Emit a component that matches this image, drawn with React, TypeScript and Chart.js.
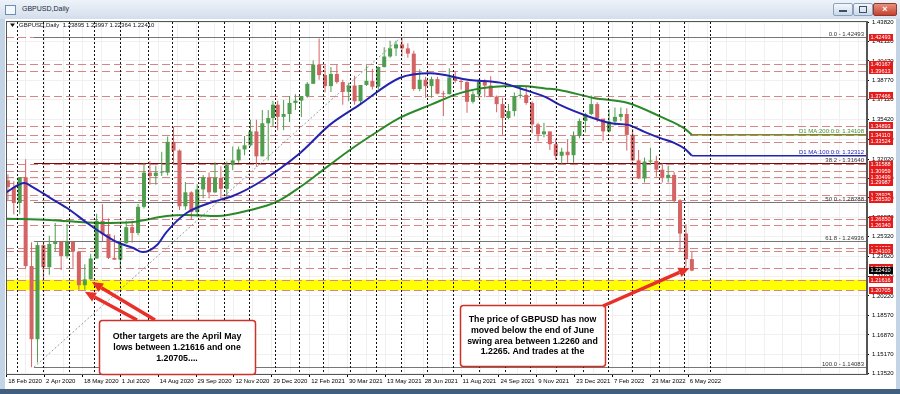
import React, { useEffect, useRef } from 'react';
import { Chart, registerables } from 'chart.js';

Chart.register(...registerables);

// ---------------- data ----------------
const FIRST_WEEK_MONDAY = '2020-02-17';
const FIRST_OPEN = 1.3018;

const weekHigh2020 = [1.3070, 1.3010, 1.3047, 1.3200, 1.2485, 1.2485, 1.2485, 1.2540, 1.2650, 1.2495, 1.2645, 1.2490, 1.2400, 1.2295, 1.2385, 1.2730, 1.2813, 1.2690, 1.2545, 1.2505, 1.2670, 1.2670, 1.2815, 1.3170, 1.3185, 1.3145, 1.3265, 1.3395, 1.3482, 1.3285, 1.3005, 1.2925, 1.2985, 1.3065, 1.3085, 1.3175, 1.3140, 1.3180, 1.3310, 1.3310, 1.3400, 1.3540, 1.3540, 1.3625, 1.3625, 1.3705];
const weekLow2020 = [1.2849, 1.2725, 1.2726, 1.2260, 1.14083, 1.1450, 1.2165, 1.2205, 1.2405, 1.2247, 1.2345, 1.2265, 1.2075, 1.2076, 1.2165, 1.2345, 1.2495, 1.2340, 1.2335, 1.2252, 1.2475, 1.2480, 1.2545, 1.2775, 1.2980, 1.2980, 1.3055, 1.3060, 1.3150, 1.2762, 1.2765, 1.2676, 1.2705, 1.2865, 1.2865, 1.2910, 1.2855, 1.2855, 1.3105, 1.3170, 1.3235, 1.3310, 1.3135, 1.3225, 1.3190, 1.3485];
const weekClose2020 = [1.2960, 1.2823, 1.3045, 1.2280, 1.1650, 1.2460, 1.2270, 1.2470, 1.2490, 1.2365, 1.2490, 1.2405, 1.2115, 1.2165, 1.2345, 1.2670, 1.2555, 1.2350, 1.2335, 1.2475, 1.2615, 1.2565, 1.2790, 1.3085, 1.3055, 1.3085, 1.3085, 1.3350, 1.3275, 1.2795, 1.2915, 1.2745, 1.2940, 1.3045, 1.2915, 1.3040, 1.2945, 1.3150, 1.3190, 1.3285, 1.3320, 1.3440, 1.3225, 1.3510, 1.3555, 1.3670];

const weekHigh2021 = [1.3705, 1.3710, 1.3745, 1.3760, 1.3745, 1.3865, 1.4050, 1.4240, 1.4010, 1.3995, 1.4015, 1.3885, 1.3860, 1.3920, 1.3840, 1.4010, 1.3980, 1.4000, 1.4165, 1.4220, 1.4220, 1.42493, 1.4200, 1.4135, 1.3975, 1.3910, 1.3910, 1.3910, 1.3790, 1.3985, 1.3955, 1.3890, 1.3875, 1.3785, 1.3890, 1.3890, 1.3915, 1.3750, 1.3730, 1.3675, 1.3775, 1.3835, 1.3825, 1.3700, 1.3515, 1.3515, 1.3440, 1.3375, 1.3300, 1.3375, 1.3440, 1.3550];
const weekLow2021 = [1.3450, 1.3450, 1.3520, 1.3625, 1.3565, 1.3730, 1.3850, 1.3885, 1.3775, 1.3780, 1.3850, 1.3670, 1.3700, 1.3670, 1.3670, 1.3830, 1.3800, 1.3800, 1.3990, 1.4075, 1.4090, 1.4085, 1.4075, 1.3790, 1.3785, 1.3730, 1.3730, 1.3760, 1.3572, 1.3760, 1.3860, 1.3800, 1.3600, 1.3680, 1.3725, 1.3735, 1.3735, 1.3605, 1.3412, 1.3545, 1.3570, 1.3725, 1.3670, 1.3425, 1.3355, 1.3390, 1.3280, 1.3195, 1.3160, 1.3170, 1.3170, 1.3380];
const weekClose2021 = [1.3565, 1.3590, 1.3685, 1.3705, 1.3745, 1.3850, 1.4015, 1.3925, 1.3830, 1.3935, 1.3865, 1.3780, 1.3835, 1.3700, 1.3840, 1.3875, 1.3825, 1.3995, 1.4085, 1.4155, 1.4190, 1.4155, 1.4110, 1.3805, 1.3885, 1.3830, 1.3890, 1.3765, 1.3760, 1.3905, 1.3875, 1.3865, 1.3695, 1.3760, 1.3870, 1.3835, 1.3740, 1.3675, 1.3555, 1.3615, 1.3745, 1.3755, 1.3685, 1.3500, 1.3415, 1.3440, 1.3330, 1.3230, 1.3265, 1.3235, 1.3400, 1.3530];

const weekHigh2022 = [1.3600, 1.3750, 1.3690, 1.3540, 1.3630, 1.3645, 1.3645, 1.3640, 1.3460, 1.3280, 1.3215, 1.3300, 1.3230, 1.3165, 1.3145, 1.3090, 1.2855, 1.2640, 1.2400];
const weekLow2022 = [1.3430, 1.3580, 1.3520, 1.3360, 1.3430, 1.3490, 1.3530, 1.3275, 1.3180, 1.3030, 1.3000, 1.3150, 1.3050, 1.3000, 1.3000, 1.2825, 1.2410, 1.2275, 1.2236];
const weekClose2022 = [1.3590, 1.3675, 1.3550, 1.3440, 1.3525, 1.3565, 1.3590, 1.3410, 1.3190, 1.3035, 1.3180, 1.3185, 1.3110, 1.3040, 1.3065, 1.2840, 1.2560, 1.2340, 1.2241];

const weekHigh = [...weekHigh2020, ...weekHigh2021, ...weekHigh2022];
const weekLow = [...weekLow2020, ...weekLow2021, ...weekLow2022];
const weekClose = [...weekClose2020, ...weekClose2021, ...weekClose2022];

// Moving averages
const ma100Dates = ['2020-02-18', '2020-03-10', '2020-03-19', '2020-04-09', '2020-04-29', '2020-05-22', '2020-06-08', '2020-06-26', '2020-07-16', '2020-07-28', '2020-08-13', '2020-08-25', '2020-09-17', '2020-10-19', '2020-11-11', '2020-12-14', '2021-02-02', '2021-03-09', '2021-04-13', '2021-05-31', '2021-07-06', '2021-08-20', '2021-09-27', '2021-10-20', '2021-11-18', '2021-12-06', '2022-01-12', '2022-02-04', '2022-02-24', '2022-03-16', '2022-04-05', '2022-04-20', '2022-05-03', '2022-05-11'];
const ma100Values = [1.2918, 1.2996, 1.2960, 1.2866, 1.2780, 1.2651, 1.2573, 1.2487, 1.2435, 1.2400, 1.2461, 1.2573, 1.2737, 1.2832, 1.2883, 1.3004, 1.3254, 1.3496, 1.3668, 1.3900, 1.3940, 1.3883, 1.3860, 1.3810, 1.3737, 1.3670, 1.3560, 1.3510, 1.3496, 1.3436, 1.3380, 1.3341, 1.3290, 1.3232];
const ma200Dates = ['2020-02-18', '2020-04-08', '2020-06-08', '2020-07-16', '2020-08-25', '2020-09-17', '2020-10-23', '2020-12-02', '2021-01-05', '2021-02-02', '2021-03-09', '2021-04-01', '2021-05-06', '2021-05-31', '2021-07-06', '2021-08-10', '2021-09-14', '2021-10-20', '2021-11-18', '2021-12-06', '2022-01-14', '2022-02-24', '2022-04-05', '2022-05-02', '2022-05-11'];
const ma200Values = [1.2688, 1.2677, 1.2651, 1.2660, 1.2711, 1.2720, 1.2711, 1.2763, 1.2832, 1.2961, 1.3152, 1.3280, 1.3450, 1.3556, 1.3668, 1.3770, 1.3820, 1.3830, 1.3810, 1.3797, 1.3728, 1.3685, 1.3565, 1.3470, 1.3411];
const ma100Level = 1.32312;
const ma200Level = 1.34108;

const xTickLabels = ['18 Feb 2020', '2 Apr 2020', '18 May 2020', '1 Jul 2020', '14 Aug 2020', '29 Sep 2020', '12 Nov 2020', '29 Dec 2020', '12 Feb 2021', '30 Mar 2021', '13 May 2021', '28 Jun 2021', '11 Aug 2021', '24 Sep 2021', '9 Nov 2021', '23 Dec 2021', '7 Feb 2022', '23 Mar 2022', '6 May 2022'];
const X_LABEL_STEP = 32;
const X_GRID_STEP = 16;
const yTickValues = [1.4382, 1.4212, 1.4047, 1.3877, 1.3712, 1.3542, 1.3372, 1.3202, 1.3037, 1.2867, 1.2697, 1.2532, 1.2362, 1.2192, 1.2022, 1.1857, 1.1687, 1.1517, 1.1352];

const levelValues = [1.42493, 1.40167, 1.39613, 1.37466, 1.34893, 1.34110, 1.33524, 1.31588, 1.30959, 1.30499, 1.29987, 1.28925, 1.28530, 1.26850, 1.26340, 1.24380, 1.24103, 1.22653, 1.22600, 1.21616, 1.20705];
const labelledLevels = [1.42493, 1.40167, 1.39613, 1.37466, 1.34893, 1.34110, 1.33524, 1.31588, 1.30959, 1.30499, 1.29987, 1.28925, 1.28530, 1.26850, 1.26340, 1.24380, 1.24103, 1.22653, 1.21616, 1.20705];
const currentPrice = 1.22410;
const bandHigh = 1.21616;
const bandLow = 1.20705;

const fibLowDate = '2020-03-20';
const fibHighDate = '2021-06-01';
const fibNames = ['0.0', '38.2', '50.0', '61.8', '100.0'];
const fibValues = [1.42493, 1.31640, 1.28288, 1.24936, 1.14083];

const separatorMonths = ['2020-03', '2020-04', '2020-05', '2020-06', '2020-07', '2020-08', '2020-09', '2020-10', '2020-11', '2020-12', '2021-01', '2021-02', '2021-03', '2021-04', '2021-05', '2021-06', '2021-07', '2021-08', '2021-09', '2021-10', '2021-11', '2021-12', '2022-01', '2022-02', '2022-03', '2022-04', '2022-05', '2022-06'];

const legendText = 'GBPUSD,Daily  1.23895 1.23997 1.22364 1.22410';
const note1 = ['Other targets are the April May', 'lows between 1.21616 and one', '1.20705....'];
const note2 = ['The price of GBPUSD has now', 'moved below the end of June', 'swing area between 1.2260 and', '1.2265. And trades at the'];
const arrowTips = [
  { date: '2020-05-28', price: 1.2142 },
  { date: '2020-05-20', price: 1.2058 },
  { date: '2022-05-09', price: 1.2263 },
];

// ---------------- helpers ----------------
const DAY = 86400000;
const BASE = Date.UTC(2020, 1, 18);
function isTradingDay(t: number) {
  const d = new Date(t);
  const wd = d.getUTCDay();
  if (wd === 0 || wd === 6) return false;
  const m = d.getUTCMonth();
  const day = d.getUTCDate();
  if (m === 11 && day === 25) return false;
  if (m === 0 && day === 1) return false;
  return true;
}
function indexOfTime(t: number) {
  let n = 0;
  if (t >= BASE) {
    for (let d = BASE; d < t; d += DAY) if (isTradingDay(d)) n++;
  } else {
    for (let d = t; d < BASE; d += DAY) if (isTradingDay(d)) n--;
  }
  return n;
}
function tradingIndex(s: string) {
  return indexOfTime(Date.parse(s + 'T00:00:00Z'));
}

const UP = '#4f9e4f';
const DOWN = '#d46363';

function roundRect(ctx: CanvasRenderingContext2D, x: number, y: number, w: number, h: number, r: number) {
  ctx.beginPath();
  ctx.moveTo(x + r, y);
  ctx.lineTo(x + w - r, y);
  ctx.quadraticCurveTo(x + w, y, x + w, y + r);
  ctx.lineTo(x + w, y + h - r);
  ctx.quadraticCurveTo(x + w, y + h, x + w - r, y + h);
  ctx.lineTo(x + r, y + h);
  ctx.quadraticCurveTo(x, y + h, x, y + h - r);
  ctx.lineTo(x, y + r);
  ctx.quadraticCurveTo(x, y, x + r, y);
  ctx.closePath();
}

function arrow(ctx: CanvasRenderingContext2D, x1: number, y1: number, x2: number, y2: number) {
  const ang = Math.atan2(y2 - y1, x2 - x1);
  const head = 11;
  const hw = 5;
  const bx = x2 - head * Math.cos(ang);
  const by = y2 - head * Math.sin(ang);
  ctx.strokeStyle = '#e8302a';
  ctx.fillStyle = '#e8302a';
  ctx.lineWidth = 3.5;
  ctx.setLineDash([]);
  ctx.beginPath();
  ctx.moveTo(x1, y1);
  ctx.lineTo(bx, by);
  ctx.stroke();
  ctx.beginPath();
  ctx.moveTo(x2, y2);
  ctx.lineTo(bx + hw * Math.sin(ang), by - hw * Math.cos(ang));
  ctx.lineTo(bx - hw * Math.sin(ang), by + hw * Math.cos(ang));
  ctx.closePath();
  ctx.fill();
}

const FONT = '"Liberation Sans", Arial, sans-serif';

export default function App() {
  const ref = useRef<HTMLCanvasElement | null>(null);

  useEffect(() => {
    const canvas = ref.current;
    if (!canvas) return;

    const mon0 = Date.parse(FIRST_WEEK_MONDAY + 'T00:00:00Z');
    const wicks: any[] = [];
    const bodies: any[] = [];
    const colors: string[] = [];
    let open = FIRST_OPEN;
    for (let i = 0; i < weekClose.length; i++) {
      const wed = mon0 + (i * 7 + 2) * DAY;
      const x = indexOfTime(wed);
      const c = weekClose[i];
      wicks.push({ x, y: [weekLow[i], weekHigh[i]] });
      bodies.push({ x, y: [open, c] });
      colors.push(c >= open ? UP : DOWN);
      open = c;
    }
    const ma100 = ma100Dates.map((d, i) => ({ x: tradingIndex(d), y: ma100Values[i] }));
    const ma200 = ma200Dates.map((d, i) => ({ x: tradingIndex(d), y: ma200Values[i] }));

    const monthStarts: number[] = separatorMonths.map((s) => {
      let t = Date.parse(s + '-01T00:00:00Z');
      while (!isTradingDay(t)) t += DAY;
      return indexOfTime(t);
    });
    const fibX = tradingIndex(fibLowDate);
    const fibX2 = tradingIndex(fibHighDate);
    const maEndX = tradingIndex(ma100Dates[ma100Dates.length - 1]);

    const overlay = {
      id: 'overlay',
      beforeDatasetsDraw(chart: any) {
        const { ctx, chartArea: a, scales } = chart;
        const xs = scales.x;
        const ys = scales.y;
        ctx.save();
        ctx.beginPath();
        ctx.rect(a.left, a.top, a.right - a.left, a.bottom - a.top);
        ctx.clip();
        // yellow band
        const yt = ys.getPixelForValue(bandHigh);
        const yb = ys.getPixelForValue(bandLow);
        ctx.fillStyle = '#ffff00';
        ctx.fillRect(a.left, yt, a.right - a.left, yb - yt);
        // red dashed levels
        ctx.lineWidth = 1;
        ctx.strokeStyle = '#d98585';
        ctx.setLineDash([8, 4]);
        for (const v of levelValues) {
          const py = Math.round(ys.getPixelForValue(v)) + 0.5;
          ctx.beginPath();
          ctx.moveTo(a.left, py);
          ctx.lineTo(a.right, py);
          ctx.stroke();
        }
        // fibonacci
        ctx.setLineDash([]);
        const fx = xs.getPixelForValue(fibX);
        fibValues.forEach((v, i) => {
          const py = Math.round(ys.getPixelForValue(v)) + 0.5;
          ctx.strokeStyle = fibNames[i] === '38.2' ? '#7a0a0a' : '#777777';
          ctx.beginPath();
          ctx.moveTo(fx, py);
          ctx.lineTo(a.right, py);
          ctx.stroke();
        });
        ctx.strokeStyle = '#9a9a9a';
        ctx.setLineDash([2, 2]);
        ctx.beginPath();
        ctx.moveTo(fx, ys.getPixelForValue(fibValues[4]));
        ctx.lineTo(xs.getPixelForValue(fibX2), ys.getPixelForValue(fibValues[0]));
        ctx.stroke();
        // MA level lines to the right edge
        ctx.setLineDash([]);
        ctx.lineWidth = 1.5;
        const mx = xs.getPixelForValue(maEndX);
        ctx.strokeStyle = '#7a8a2a';
        let py = ys.getPixelForValue(ma200Level);
        ctx.beginPath(); ctx.moveTo(mx, py); ctx.lineTo(a.right, py); ctx.stroke();
        ctx.strokeStyle = '#2323b0';
        py = ys.getPixelForValue(ma100Level);
        ctx.beginPath(); ctx.moveTo(mx, py); ctx.lineTo(a.right, py); ctx.stroke();
        ctx.restore();
      },
      afterDatasetsDraw(chart: any) {
        const { ctx, chartArea: a, scales } = chart;
        const xs = scales.x;
        ctx.save();
        ctx.lineWidth = 1;
        ctx.strokeStyle = '#111111';
        ctx.setLineDash([2, 2]);
        for (const mi of monthStarts) {
          const px = Math.round(xs.getPixelForValue(mi)) + 0.5;
          if (px <= a.left || px >= a.right) continue;
          ctx.beginPath();
          ctx.moveTo(px, a.top + 1);
          ctx.lineTo(px, a.bottom);
          ctx.stroke();
        }
        ctx.restore();
      },
      afterDraw(chart: any) {
        const { ctx, chartArea: a, scales } = chart;
        const xs = scales.x;
        const ys = scales.y;
        ctx.save();
        // frame
        ctx.strokeStyle = '#555';
        ctx.lineWidth = 1;
        ctx.setLineDash([]);
        ctx.strokeRect(a.left + 0.5, a.top + 0.5, a.right - a.left - 1, a.bottom - a.top);
        // legend
        ctx.font = '6px ' + FONT;
        ctx.fillStyle = '#111';
        ctx.textBaseline = 'middle';
        ctx.textAlign = 'left';
        ctx.beginPath();
        ctx.moveTo(a.left + 4, a.top + 2.5);
        ctx.lineTo(a.left + 9, a.top + 2.5);
        ctx.lineTo(a.left + 6.5, a.top + 6);
        ctx.closePath();
        ctx.fill();
        ctx.fillText(legendText, a.left + 13, a.top + 4.5);
        // fib labels
        ctx.textAlign = 'right';
        ctx.textBaseline = 'alphabetic';
        fibValues.forEach((v, i) => {
          const y = ys.getPixelForValue(v) - 1.5;
          ctx.fillStyle = '#333';
          ctx.fillText(fibNames[i] + ' - ' + v.toFixed(5), a.right - 3, y);
        });
        ctx.fillStyle = '#3f8f2f';
        ctx.fillText('D1 MA:200:0:0: ' + ma200Level.toFixed(5), a.right - 3, ys.getPixelForValue(ma200Level) - 1.5);
        ctx.fillStyle = '#2323b0';
        ctx.fillText('D1 MA:100:0:0: ' + ma100Level.toFixed(5), a.right - 3, ys.getPixelForValue(ma100Level) - 1.5);
        // price labels on the axis
        ctx.font = '5.6px ' + FONT;
        ctx.textAlign = 'left';
        ctx.textBaseline = 'middle';
        for (const v of labelledLevels) {
          const y = ys.getPixelForValue(v);
          ctx.fillStyle = '#e51b1b';
          ctx.fillRect(a.right + 2, Math.round(y - 3.5), 24, 7);
          ctx.fillStyle = '#fff';
          ctx.fillText(v.toFixed(5), a.right + 3.5, y + 0.3);
        }
        {
          const y = ys.getPixelForValue(currentPrice);
          ctx.fillStyle = '#000';
          ctx.fillRect(a.right + 2, Math.round(y - 3.5), 24, 7);
          ctx.fillStyle = '#fff';
          ctx.fillText(currentPrice.toFixed(5), a.right + 3.5, y + 0.3);
        }
        // annotation boxes
        const boxes = [
          { l: 99, t: 320, r: 255, b: 374, lines: note1, cy: 337 },
          { l: 460, t: 305, r: 605, b: 366, lines: note2, cy: 319.5 },
        ];
        ctx.font = 'bold 8.8px ' + FONT;
        ctx.textAlign = 'center';
        for (const bx of boxes) {
          roundRect(ctx, bx.l + 0.5, bx.t + 0.5, bx.r - bx.l, bx.b - bx.t, 3);
          ctx.fillStyle = '#fff';
          ctx.fill();
          ctx.strokeStyle = '#d0302a';
          ctx.lineWidth = 1.5;
          ctx.stroke();
          ctx.fillStyle = '#000';
          bx.lines.forEach((s, i) => ctx.fillText(s, (bx.l + bx.r) / 2, bx.cy + i * 10.8));
        }
        // arrows
        const tails = [[155, 320], [137, 320], [603, 306]];
        arrowTips.forEach((tp, i) => {
          const tx = xs.getPixelForValue(tradingIndex(tp.date));
          const ty = ys.getPixelForValue(tp.price);
          arrow(ctx, tails[i][0], tails[i][1], tx, ty);
        });
        ctx.restore();
      },
    };

    const chart = new Chart(canvas, {
      type: 'bar',
      data: {
        datasets: [
          {
            type: 'line',
            data: ma100,
            borderColor: '#2323b0',
            borderWidth: 2,
            pointRadius: 0,
            cubicInterpolationMode: 'monotone',
            order: 0,
          } as any,
          {
            type: 'line',
            data: ma200,
            borderColor: '#2a8a2a',
            borderWidth: 2,
            pointRadius: 0,
            cubicInterpolationMode: 'monotone',
            order: 0,
          } as any,
          {
            type: 'bar',
            data: bodies,
            backgroundColor: colors,
            grouped: false,
            categoryPercentage: 1,
            barPercentage: 0.85,
            maxBarThickness: 5,
            minBarLength: 1,
            order: 1,
          } as any,
          {
            type: 'bar',
            data: wicks,
            backgroundColor: colors,
            grouped: false,
            maxBarThickness: 1,
            order: 2,
          } as any,
        ],
      },
      options: {
        animation: false,
        responsive: false,
        devicePixelRatio: 1,
        layout: { padding: { left: 6, top: 21, right: 0, bottom: 0 } },
        plugins: { legend: { display: false }, tooltip: { enabled: false } },
        scales: {
          x: {
            type: 'linear',
            min: -0.6,
            max: 727,
            offset: false,
            afterFit: (s: any) => { s.height = 20; },
            afterBuildTicks: (s: any) => {
              const t = [];
              for (let v = 0; v <= 720; v += X_GRID_STEP) t.push({ value: v });
              s.ticks = t;
            },
            grid: {
              offset: false,
              color: '#f0f0f0',
              tickLength: 3,
              tickColor: (c: any) => (c.tick && c.tick.value % X_LABEL_STEP === 0 && c.tick.value / X_LABEL_STEP < xTickLabels.length ? '#000' : 'rgba(0,0,0,0)'),
            },
            border: { display: true, color: '#555' },
            ticks: {
              autoSkip: false,
              maxRotation: 0,
              minRotation: 0,
              align: 'start',
              labelOffset: 1.5,
              padding: 1,
              color: '#000',
              font: { size: 6, family: FONT },
              callback: (v: any) => {
                const k = Number(v) / X_LABEL_STEP;
                return Number.isInteger(k) && k < xTickLabels.length ? xTickLabels[k] : '';
              },
            },
          },
          y: {
            type: 'linear',
            position: 'right',
            min: 1.1350,
            max: 1.4391,
            afterFit: (s: any) => { s.width = 33; },
            afterBuildTicks: (s: any) => { s.ticks = yTickValues.map((v) => ({ value: v })); },
            grid: { color: '#f0f0f0', tickLength: 2, tickColor: '#000' },
            border: { display: true, color: '#555' },
            ticks: {
              padding: 3,
              color: '#000',
              font: { size: 6, family: FONT },
              callback: (v: any) => Number(v).toFixed(5),
            },
          },
        },
      } as any,
      plugins: [overlay],
    });
    return () => chart.destroy();
  }, []);

  return (
    <div style={{ position: 'fixed', left: 0, top: 0, width: 900, height: 394, background: '#c4d4e7', overflow: 'hidden', fontFamily: FONT }}>
      <div style={{ position: 'absolute', left: 0, top: 0, width: 900, height: 19, background: 'linear-gradient(#eef3f9, #d3deec)' }} />
      <div style={{ position: 'absolute', left: 5, top: 5, width: 9, height: 8, border: '1px solid #6d8fb5', background: '#f4f8fc' }} />
      <div style={{ position: 'absolute', left: 22, top: 5, fontSize: 7, color: '#1d2a3a' }}>GBPUSD,Daily</div>
      <div style={{ position: 'absolute', left: 833, top: 3, width: 18, height: 11, borderRadius: 2, border: '1px solid #8aa2bf', background: 'linear-gradient(#f4f7fb, #cdd9e8)' }}>
        <div style={{ position: 'absolute', left: 5, top: 6, width: 8, height: 2, background: '#3b4f68' }} />
      </div>
      <div style={{ position: 'absolute', left: 853, top: 3, width: 18, height: 11, borderRadius: 2, border: '1px solid #8aa2bf', background: 'linear-gradient(#f4f7fb, #cdd9e8)' }}>
        <div style={{ position: 'absolute', left: 5, top: 2, width: 6, height: 5, border: '1px solid #3b4f68' }} />
      </div>
      <div style={{ position: 'absolute', left: 873, top: 3, width: 22, height: 11, borderRadius: 2, border: '1px solid #8a3a30', background: 'linear-gradient(#e8907f, #c8402f)', color: '#fff', fontSize: 9, lineHeight: '11px', textAlign: 'center', fontWeight: 'bold' }}>×</div>
      <div style={{ position: 'absolute', left: 5, top: 19, width: 891, height: 370, background: '#ffffff' }} />
      <div style={{ position: 'absolute', left: 0, top: 389, width: 900, height: 5, background: '#3f5e80' }} />
      <canvas ref={ref} width={900} height={394} style={{ position: 'absolute', left: 0, top: 0, width: 900, height: 394 }} />
    </div>
  );
}
